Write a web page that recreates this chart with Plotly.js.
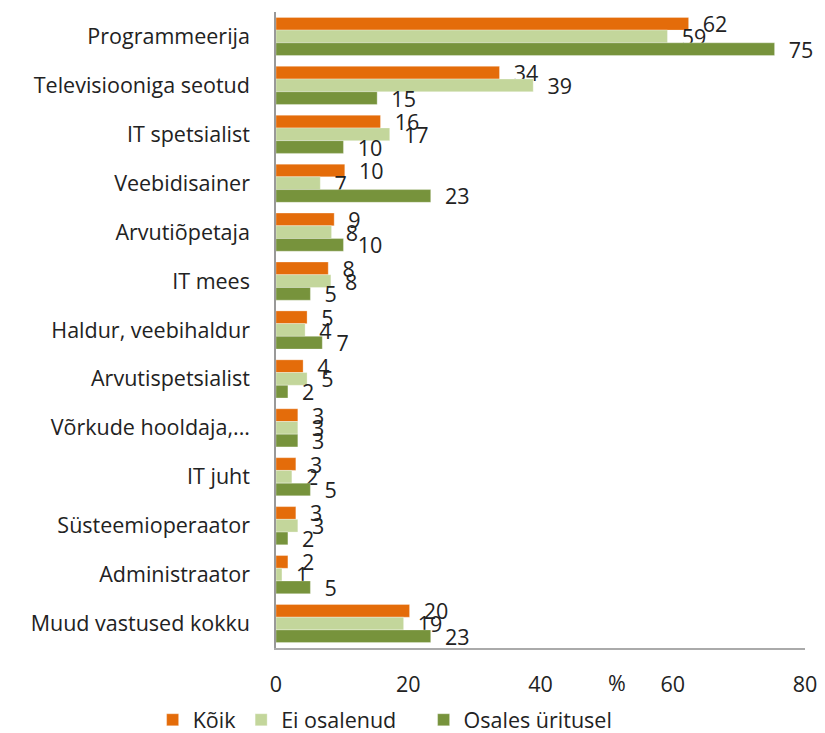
<!DOCTYPE html>
<html>
<head>
<meta charset="utf-8">
<script src="https://cdn.plot.ly/plotly-3.0.1.min.js"></script>
<style>html,body{margin:0;padding:0;background:#fff;}#chart{width:825px;height:733px;}</style>
</head>
<body>
<div id="chart"></div>
<script>
const categories = ["Programmeerija","Televisiooniga seotud","IT spetsialist","Veebidisainer","Arvutiõpetaja","IT mees","Haldur, veebihaldur","Arvutispetsialist","Võrkude hooldaja,...","IT juht","Süsteemioperaator","Administraator","Muud vastused kokku"];
const seriesNames = ["Kõik","Ei osalenud","Osales üritusel"];
const koik =      [62.4, 33.8, 15.8, 10.4, 8.8, 7.9, 4.7, 4.1, 3.3, 3.0, 3.0, 1.8, 20.2];
const eiOsalenud = [59.2, 38.9, 17.2, 6.7, 8.4, 8.3, 4.4, 4.7, 3.3, 2.4, 3.3, 0.9, 19.3];
const osales =    [75.4, 15.3, 10.2, 23.4, 10.2, 5.2, 7.0, 1.8, 3.3, 5.2, 1.8, 5.2, 23.4];
const xTicks = [0, 20, 40, 60, 80];

const colors = ["#E46C0A", "#C3D69B", "#77933C"];
const font = "'Open Sans', Lato, sans-serif";
const fs = 21.5;
const values = [koik, eiOsalenud, osales];
const legendPad = ["", "\u00a0\u00a0\u00a0\u00a0", ""];

const traces = values.map((v, i) => ({
  type: "bar",
  orientation: "h",
  name: seriesNames[i] + legendPad[i],
  y: categories,
  x: v,
  marker: {color: colors[i], line: {color: "rgba(255,255,255,0.6)", width: 0.5}},
  texttemplate: "\u00a0\u00a0%{x:.0f}",
  textposition: "outside",
  constraintext: "none",
  cliponaxis: false,
  textfont: {family: font, size: fs, color: "#222"},
  hoverinfo: "x+y"
}));

const layout = {
  width: 825, height: 733,
  margin: {l: 276, r: 20, t: 12, b: 85},
  paper_bgcolor: "#fff", plot_bgcolor: "#fff",
  barmode: "group",
  bargap: 0.22, bargroupgap: 0,
  font: {family: font, size: fs, color: "#222"},
  showlegend: true,
  legend: {orientation: "h", xref: "container", yref: "container", x: 0.185, xanchor: "left",
           y: 0.018, yanchor: "middle",
           font: {family: font, size: fs, color: "#222"}, traceorder: "normal",
           tracegroupgap: 0},
  xaxis: {range: [0, 80], tickvals: xTicks, showgrid: false, zeroline: false, automargin: false,
          showline: true, linecolor: "#aaa", linewidth: 1.5,
          ticks: "", ticklabelstandoff: 16, tickfont: {family: font, size: fs, color: "#222"}},
  yaxis: {type: "category", autorange: "reversed", showgrid: false, zeroline: false, automargin: false,
          showline: true, linecolor: "#999", linewidth: 1.5, ticks: "",
          ticklabelstandoff: 20, tickfont: {family: font, size: fs, color: "#222"}},
  annotations: [{text: "%", xref: "x", yref: "paper", x: 51.5, y: 0, yanchor: "top", yshift: -18,
                 showarrow: false, font: {family: font, size: fs, color: "#222"}}]
};

Plotly.newPlot("chart", traces, layout, {displayModeBar: false, responsive: false});
</script>
</body>
</html>
